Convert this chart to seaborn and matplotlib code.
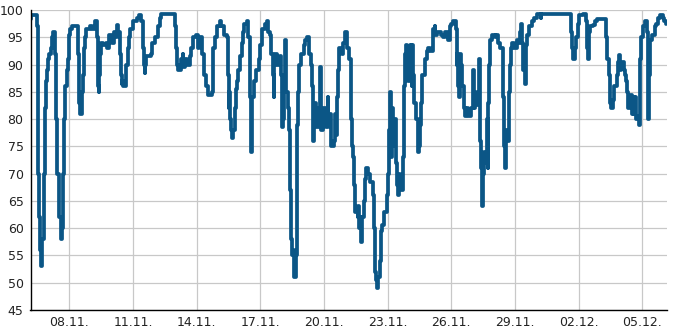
import matplotlib
matplotlib.use("Agg")
import matplotlib.pyplot as plt
import matplotlib.dates as mdates
from matplotlib.ticker import MultipleLocator
import seaborn as sns
import pandas as pd

start = "2023-11-06 00:00"

hours = [4, 5, 10, 11, 12, 13, 14, 15, 16, 17, 19, 20, 21, 22, 23, 24, 25, 27, 28, 29,
         31, 32, 33, 34, 36, 38, 40, 41, 42, 43, 45, 46, 47, 48, 49, 51, 57, 58, 59, 60,
         62, 63, 64, 65, 66, 67, 71, 74, 77, 79, 80, 81, 82, 83, 84, 86, 89, 91, 93, 96,
         98, 100, 102, 103, 105, 106, 107, 108, 109, 111, 112, 114, 115, 117, 120, 124, 127, 129, 131, 132,
         133, 134, 135, 140, 142, 145, 148, 150, 152, 167, 168, 169, 170, 171, 174, 176, 177, 179, 181, 184,
         186, 188, 191, 193, 195, 198, 200, 202, 205, 209, 210, 211, 213, 215, 218, 220, 223, 226, 227, 228,
         229, 230, 231, 232, 233, 235, 236, 238, 239, 241, 243, 244, 246, 249, 250, 252, 253, 254, 255, 257,
         259, 262, 264, 266, 269, 271, 273, 275, 276, 278, 279, 280, 281, 283, 286, 287, 288, 289, 290, 291,
         292, 293, 295, 296, 297, 298, 299, 300, 301, 302, 304, 305, 306, 307, 308, 310, 313, 315, 317, 319,
         321, 322, 323, 324, 325, 326, 327, 330, 332, 333, 335, 338, 340, 341, 343, 344, 347, 349, 350, 351,
         352, 353, 356, 358, 360, 362, 364, 366, 367, 368, 369, 370, 371, 374, 375, 376, 377, 378, 379, 381,
         382, 384, 386, 388, 391, 393, 394, 395, 396, 397, 399, 400, 401, 402, 404, 407, 408, 409, 410, 411,
         412, 413, 414, 416, 417, 419, 420, 421, 422, 425, 426, 427, 428, 429, 430, 431, 433, 434, 435, 436,
         437, 438, 440, 442, 443, 445, 446, 447, 450, 452, 454, 456, 459, 461, 462, 464, 468, 471, 473, 476,
         478, 480, 482, 485, 486, 487, 488, 489, 490, 491, 492, 494, 495, 497, 499, 502, 504, 505, 506, 507,
         508, 511, 512, 513, 514, 515, 516, 517, 518, 520, 521, 522, 523, 524, 526, 529, 531, 533, 535, 538,
         539, 540, 541, 542, 543, 545, 546, 547, 549, 551, 554, 556, 558, 559, 560, 561, 563, 564, 565, 566,
         568, 571, 574, 577, 581, 582, 613, 615, 616, 618, 620, 621, 623, 625, 629, 632, 634, 635, 636, 637,
         640, 642, 645, 653, 655, 656, 658, 659, 660, 661, 663, 664, 667, 669, 670, 671, 672, 675, 676, 678,
         679, 680, 682, 684, 685, 687, 688, 689, 690, 692, 693, 694, 695, 697, 699, 701, 702, 703, 704, 705,
         707, 710, 712, 714, 716, 719, 721, 723]

values = [98.3, 99, 99, 97, 82, 70, 62, 56, 53, 58, 70, 82, 84, 87, 89, 91, 92, 93, 95, 96,
          96, 92, 80, 70, 62, 58, 60, 70, 80, 86, 89, 91, 93, 95.5, 96.5, 97, 97, 92, 83, 81,
          85, 88, 91, 93, 95, 96.5, 97, 96.5, 98, 95, 86, 85, 88, 92, 94, 93.5, 94, 93, 95.5, 94,
          96, 95, 97.2, 96, 92, 88, 86.5, 87, 86, 86, 90, 93, 95, 96.5, 98, 98.5, 99, 98, 93, 90,
          88.5, 90, 91.5, 92, 94, 95, 97, 98.5, 99.3, 99.3, 97, 93, 90, 89, 91, 92, 89.5, 91, 90, 91.5,
          93, 95, 95.5, 93, 95, 92, 88, 86, 84.5, 85, 90, 93, 95, 97, 98, 97, 95.5, 95, 88, 82,
          85, 80, 78, 76.5, 78, 82, 85.5, 87, 89, 91.5, 94, 96, 97.5, 98, 95, 84, 74, 80, 84, 87,
          89, 91, 93.5, 96.5, 97.5, 98, 96, 95.5, 92, 88, 84, 90, 92, 90, 91.5, 88, 82, 78.5, 80, 88,
          94.5, 85, 82, 78, 72, 67, 58, 55, 56, 51, 55, 62, 79, 85, 90, 92, 93.5, 94.5, 95, 92,
          90, 86, 82, 76, 80, 83, 78.5, 82, 89.5, 78, 82, 78.5, 84, 79, 81, 75, 76, 81, 77, 84,
          89, 93, 92, 94, 96, 93, 91, 87, 80, 75, 73, 68, 63, 62, 64, 60, 62, 57.5, 62, 65,
          69, 71, 70, 68.5, 66, 60, 52, 50.5, 49, 51, 54, 58, 59.5, 60.5, 63, 66, 70, 76, 78, 85,
          73, 82, 75, 80, 72, 68, 66, 70, 67, 73, 82, 86, 92, 93.5, 92, 87, 93.5, 90, 86, 93.5,
          88, 83, 80, 74, 75, 79, 83, 88, 91, 92.5, 93, 92.5, 96.5, 97, 95.5, 96, 95.5, 95, 96, 94.5,
          97, 97.5, 98, 96.5, 90, 92, 86, 84, 92, 90, 86, 82, 80.5, 82, 80.5, 82, 84, 89, 82, 85,
          82.5, 91, 82, 76, 71, 64, 70, 74, 72, 80, 71, 83, 90, 94.5, 95.5, 95, 95.5, 94, 93, 91,
          84, 75, 71, 78, 76, 85, 90, 93, 94, 93, 94.5, 94, 96, 97.5, 94, 89, 86.5, 91, 93.5, 95.5,
          97, 98, 98.5, 99.3, 98.5, 99.3, 99.3, 96, 93, 91, 93, 95, 97.5, 99, 99.3, 98, 93, 91, 96, 97,
          97.3, 98, 98.3, 98.3, 95, 91, 88, 85, 83, 82, 83.5, 86, 88, 90.5, 91.7, 89, 90.5, 89, 88, 87,
          85, 82, 84.5, 81, 84, 81, 84, 80, 80.5, 79, 84, 91, 95, 97, 98, 96, 90, 80, 88, 94.5,
          95.5, 97, 97.5, 98.5, 99, 98.5, 98, 97.5]

tick_dates = ["2023-11-08", "2023-11-11", "2023-11-14", "2023-11-17", "2023-11-20",
              "2023-11-23", "2023-11-26", "2023-11-29", "2023-12-02", "2023-12-05"]
y_ticks = [45, 50, 55, 60, 65, 70, 75, 80, 85, 90, 95, 100]

df = pd.DataFrame({
    "time": pd.Timestamp(start) + pd.to_timedelta(hours, unit="h"),
    "value": values,
})

sns.set_style("white")
plt.rcParams["font.family"] = ["DejaVu Sans"]

fig = plt.figure(figsize=(6.85, 3.30), dpi=100)
ax = fig.add_axes([30.5 / 685, 1 - 310 / 330, (667 - 30.5) / 685, 300 / 330])

sns.lineplot(data=df, x="time", y="value", ax=ax, color="#0b5686",
             linewidth=2.7, drawstyle="steps-post", estimator=None, sort=True)

ax.set_xlim(df["time"].iloc[0], df["time"].iloc[-1] + pd.Timedelta(hours=1))
ax.set_ylim(min(y_ticks), max(y_ticks))
ax.set_xticks(pd.to_datetime(tick_dates))
ax.xaxis.set_major_formatter(mdates.DateFormatter("%d.%m."))
ax.set_yticks(y_ticks)
ax.yaxis.set_minor_locator(MultipleLocator(1))

ax.grid(True, which="major", color="#c8c8c8", linewidth=0.9)
ax.set_axisbelow(True)
for s in ["top", "right"]:
    ax.spines[s].set_visible(False)
for s in ["left", "bottom"]:
    ax.spines[s].set_color("black")
    ax.spines[s].set_linewidth(1.0)

ax.tick_params(axis="both", which="major", direction="in", length=4, width=1,
               color="black", labelsize=9, labelcolor="#222222")
ax.tick_params(axis="y", which="minor", direction="in", length=3, width=0.8, color="black")
ax.tick_params(axis="y", which="major", pad=5)
ax.tick_params(axis="x", which="major", pad=4)
ax.set_xlabel("")
ax.set_ylabel("")

fig.savefig("out.png", dpi=100)
